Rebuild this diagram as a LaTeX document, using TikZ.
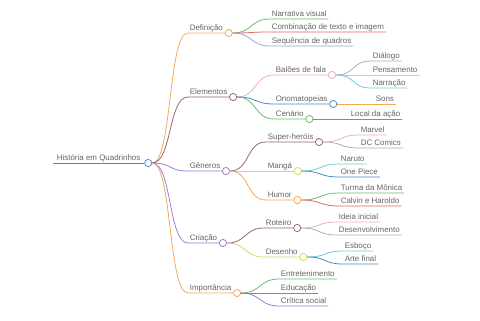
\documentclass[tikz,border=0pt]{standalone}
\usepackage{fontspec}
\setmainfont{Liberation Sans}
\usepackage{tikz}
\usepackage{xcolor}
\definecolor{txt}{HTML}{646464}
\definecolor{cBlue}{HTML}{4A86C2}
\definecolor{cOrange}{HTML}{F5A84E}
\definecolor{cBrown}{HTML}{93656B}
\definecolor{cPurple}{HTML}{9A7AD4}
\definecolor{cGreen}{HTML}{68BA68}
\definecolor{cRed}{HTML}{E26464}
\definecolor{cLav}{HTML}{A898E2}
\definecolor{cPink}{HTML}{EAA8D4}
\definecolor{cGray}{HTML}{ADADAD}
\definecolor{cLime}{HTML}{D4D864}
\definecolor{cCyan}{HTML}{66CBDE}

\begin{document}
\begin{tikzpicture}[
          x=0.05cm, y=-0.05cm,
          line width=1.1pt,
          every node/.style={font=\fontsize{11.3}{13}\selectfont},
          topic/.style={anchor=south west, inner xsep=2pt, inner ysep=1.2pt, text=txt, text height=1.6ex, text depth=0.3ex},
          dot/.style={circle, draw, fill=white, inner sep=0pt, minimum size=0.36cm, line width=1.1pt, anchor=west},
          link/.style={line cap=round}
      ]
        \useasboundingbox (0,0) rectangle (480,320);

        % root
        \node[topic, inner xsep=5pt] (root) at (53,163) {História em Quadrinhos};
        \node[dot, draw=cBlue] (root-d) at (root.south east) {};

        % first level
        \node[topic] (def) at (188,33) {Definição};
        \node[topic] (ele) at (188,97) {Elementos};
        \node[topic] (gen) at (188,171) {Gêneros};
        \node[topic] (cri) at (188,243) {Criação};
        \node[topic] (imp) at (188,293) {Importância};
        \node[dot, draw=cOrange] (def-d) at (def.south east) {};
        \node[dot, draw=cBrown] (ele-d) at (ele.south east) {};
        \node[dot, draw=cPurple] (gen-d) at (gen.south east) {};
        \node[dot, draw=cPurple] (cri-d) at (cri.south east) {};
        \node[dot, draw=cOrange] (imp-d) at (imp.south east) {};

        % Definição
        \node[topic] (nar) at (270,19) {Narrativa visual};
        \node[topic] (com) at (270,32) {Combinação de texto e imagem};
        \node[topic] (seq) at (270,46) {Sequência de quadros};

        % Elementos
        \node[topic] (bal) at (274,75) {Balões de fala};
        \node[topic] (ono) at (274,104) {Onomatopeias};
        \node[topic] (cen) at (274,119) {Cenário};
        \node[dot, draw=cPink] (bal-d) at (bal.south east) {};
        \node[dot, draw=cBlue] (ono-d) at (ono.south east) {};
        \node[dot, draw=cGreen] (cen-d) at (cen.south east) {};
        \node[topic] (dia) at (371,61) {Diálogo};
        \node[topic] (pen) at (371,75) {Pensamento};
        \node[topic] (nrr) at (371,88) {Narração};
        \node[topic] (son) at (374,104) {Sons};
        \node[topic] (loc) at (349,119) {Local da ação};

        % Gêneros
        \node[topic] (sup) at (266,142) {Super-heróis};
        \node[topic] (man) at (266,171) {Mangá};
        \node[topic] (hum) at (266,200) {Humor};
        \node[dot, draw=cBrown] (sup-d) at (sup.south east) {};
        \node[dot, draw=cLime] (man-d) at (man.south east) {};
        \node[dot, draw=cOrange] (hum-d) at (hum.south east) {};
        \node[topic] (mar) at (359,135) {Marvel};
        \node[topic] (dcc) at (359,148) {DC Comics};
        \node[topic] (nru) at (339,164) {Naruto};
        \node[topic] (one) at (339,177) {One Piece};
        \node[topic] (tur) at (339,193) {Turma da Mônica};
        \node[topic] (cal) at (339,206) {Calvin e Haroldo};

        % Criação
        \node[topic] (rot) at (264,228) {Roteiro};
        \node[topic] (des) at (264,257) {Desenho};
        \node[dot, draw=cBrown] (rot-d) at (rot.south east) {};
        \node[dot, draw=cLime] (des-d) at (des.south east) {};
        \node[topic] (ide) at (337,222) {Ideia inicial};
        \node[topic] (dsv) at (337,235) {Desenvolvimento};
        \node[topic] (esb) at (343,251) {Esboço};
        \node[topic] (art) at (343,264) {Arte final};

        % Importância
        \node[topic] (ent) at (279,279) {Entretenimento};
        \node[topic] (edu) at (279,293) {Educação};
        \node[topic] (cri2) at (279,306) {Crítica social};

        % connectors
        \draw[cBlue] (root.south west) -- (root-d.west);
        \draw[link, cOrange] (root-d.east) .. controls +(20,0) and +(-20,0) .. (def.south west) -- (def-d.west);
        \draw[link, cBrown] (root-d.east) .. controls +(20,0) and +(-20,0) .. (ele.south west) -- (ele-d.west);
        \draw[link, cPurple] (root-d.east) .. controls +(20,0) and +(-20,0) .. (gen.south west) -- (gen-d.west);
        \draw[link, cPurple] (root-d.east) .. controls +(20,0) and +(-20,0) .. (cri.south west) -- (cri-d.west);
        \draw[link, cOrange] (root-d.east) .. controls +(20,0) and +(-20,0) .. (imp.south west) -- (imp-d.west);

        \draw[link, cGreen] (def-d.east) .. controls +(20,0) and +(-20,0) .. (nar.south west) -- (nar.south east);
        \draw[link, cRed] (def-d.east) .. controls +(20,0) and +(-20,0) .. (com.south west) -- (com.south east);
        \draw[link, cLav] (def-d.east) .. controls +(20,0) and +(-20,0) .. (seq.south west) -- (seq.south east);

        \draw[link, cPink] (ele-d.east) .. controls +(20,0) and +(-20,0) .. (bal.south west) -- (bal-d.west);
        \draw[link, cBlue] (ele-d.east) .. controls +(20,0) and +(-20,0) .. (ono.south west) -- (ono-d.west);
        \draw[link, cGreen] (ele-d.east) .. controls +(20,0) and +(-20,0) .. (cen.south west) -- (cen-d.west);
        \draw[link, cGray] (bal-d.east) .. controls +(20,0) and +(-20,0) .. (dia.south west) -- (dia.south east);
        \draw[link, cLime] (bal-d.east) -- (pen.south east);
        \draw[link, cCyan] (bal-d.east) .. controls +(20,0) and +(-20,0) .. (nrr.south west) -- (nrr.south east);
        \draw[link, cOrange] (ono-d.east) -- (son.south east);
        \draw[link, cRed] (cen-d.east) -- (loc.south east);

        \draw[link, cBrown] (gen-d.east) .. controls +(20,0) and +(-20,0) .. (sup.south west) -- (sup-d.west);
        \draw[link, cLime] (gen-d.east) -- (man-d.west);
        \draw[link, cOrange] (gen-d.east) .. controls +(20,0) and +(-20,0) .. (hum.south west) -- (hum-d.west);
        \draw[link, cPink] (sup-d.east) .. controls +(20,0) and +(-20,0) .. (mar.south west) -- (mar.south east);
        \draw[link, cGray] (sup-d.east) .. controls +(20,0) and +(-20,0) .. (dcc.south west) -- (dcc.south east);
        \draw[link, cCyan] (man-d.east) .. controls +(20,0) and +(-20,0) .. (nru.south west) -- (nru.south east);
        \draw[link, cBlue] (man-d.east) .. controls +(20,0) and +(-20,0) .. (one.south west) -- (one.south east);
        \draw[link, cGreen] (hum-d.east) .. controls +(20,0) and +(-20,0) .. (tur.south west) -- (tur.south east);
        \draw[link, cRed] (hum-d.east) .. controls +(20,0) and +(-20,0) .. (cal.south west) -- (cal.south east);

        \draw[link, cBrown] (cri-d.east) .. controls +(20,0) and +(-20,0) .. (rot.south west) -- (rot-d.west);
        \draw[link, cLime] (cri-d.east) .. controls +(20,0) and +(-20,0) .. (des.south west) -- (des-d.west);
        \draw[link, cPink] (rot-d.east) .. controls +(20,0) and +(-20,0) .. (ide.south west) -- (ide.south east);
        \draw[link, cGray] (rot-d.east) .. controls +(20,0) and +(-20,0) .. (dsv.south west) -- (dsv.south east);
        \draw[link, cCyan] (des-d.east) .. controls +(20,0) and +(-20,0) .. (esb.south west) -- (esb.south east);
        \draw[link, cBlue] (des-d.east) .. controls +(20,0) and +(-20,0) .. (art.south west) -- (art.south east);

        \draw[link, cGreen] (imp-d.east) .. controls +(20,0) and +(-20,0) .. (ent.south west) -- (ent.south east);
        \draw[link, cRed] (imp-d.east) -- (edu.south east);
        \draw[link, cPurple] (imp-d.east) .. controls +(20,0) and +(-20,0) .. (cri2.south west) -- (cri2.south east);
      \end{tikzpicture}
\end{document}
